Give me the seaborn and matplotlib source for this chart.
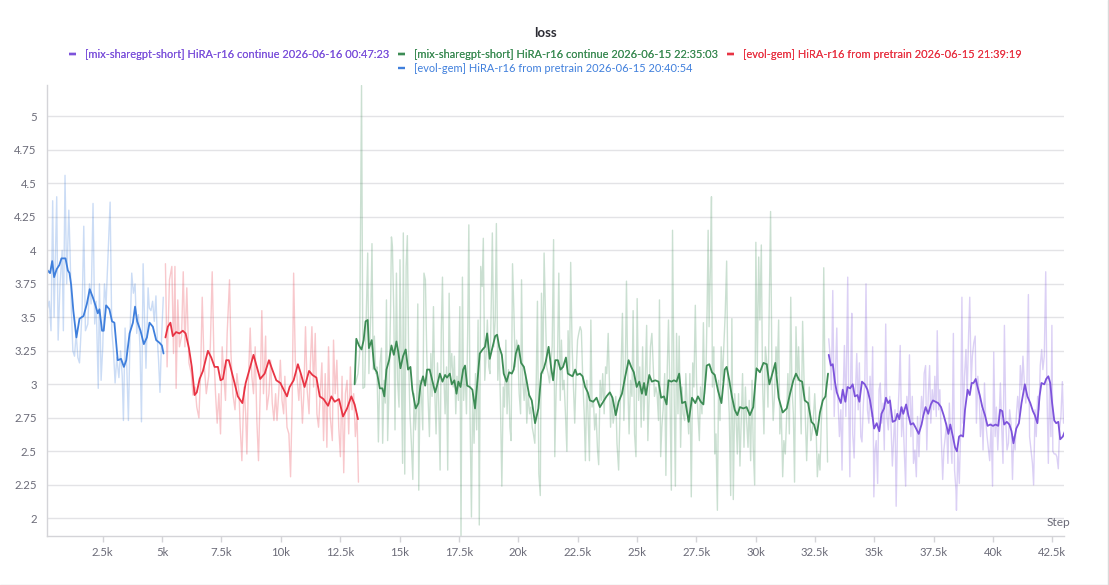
import matplotlib
matplotlib.use("Agg")
import matplotlib.pyplot as plt
from matplotlib.lines import Line2D
from matplotlib.ticker import FixedLocator, FuncFormatter
import seaborn as sns
import numpy as np
import pandas as pd

# run names as shown in the legend
run_purple = "[mix-sharegpt-short] HiRA-r16 continue 2026-06-16 00:47:23"
run_green = "[mix-sharegpt-short] HiRA-r16 continue 2026-06-15 22:35:03"
run_red = "[evol-gem] HiRA-r16 from pretrain 2026-06-15 21:39:19"
run_blue = "[evol-gem] HiRA-r16 from pretrain 2026-06-15 20:40:54"

colors = {
    run_purple: "#7d53db",
    run_green: "#3d8c55",
    run_red: "#e83444",
    run_blue: "#3f7fdc",
}

# steps are in thousands
blue_smooth_k = [0.08, 0.18, 0.28, 0.37, 0.45, 0.56, 0.67, 0.76, 0.93, 1.03,
                 1.10, 1.17, 1.26, 1.39, 1.52, 1.69, 1.83, 1.95, 2.08, 2.19,
                 2.29, 2.36, 2.47, 2.54, 2.64, 2.78, 2.89, 2.99, 3.13, 3.27,
                 3.39, 3.49, 3.63, 3.77, 3.86, 3.95, 4.09, 4.23, 4.36, 4.47,
                 4.61, 4.75, 4.89, 4.99, 5.06]
blue_smooth = [3.77, 3.85, 3.83, 3.92, 3.80, 3.86, 3.89, 3.94, 3.94, 3.85,
               3.83, 3.74, 3.55, 3.35, 3.49, 3.51, 3.60, 3.71, 3.65, 3.59,
               3.53, 3.56, 3.40, 3.40, 3.59, 3.56, 3.47, 3.46, 3.18, 3.19,
               3.13, 3.18, 3.38, 3.46, 3.58, 3.47, 3.40, 3.30, 3.35, 3.46,
               3.43, 3.33, 3.31, 3.29, 3.23]
blue_raw_k = [0.11, 0.18, 0.25, 0.32, 0.39, 0.45, 0.56, 0.62, 0.70, 0.79, 0.84,
              0.91, 0.98, 1.07, 1.12, 1.18, 1.24, 1.31, 1.38, 1.45, 1.52,
              1.63, 1.70, 1.77, 1.87, 1.94, 2.01, 2.09, 2.16, 2.22, 2.31,
              2.36, 2.43, 2.50, 2.57, 2.64, 2.73, 2.81, 2.88, 2.95, 3.02,
              3.09, 3.18, 3.25, 3.32, 3.37, 3.44, 3.51, 3.58, 3.65, 3.72,
              3.79, 3.86, 3.93, 4.00, 4.07, 4.13, 4.20, 4.27, 4.32, 4.41,
              4.46, 4.53, 4.60, 4.67, 4.74, 4.80, 4.85, 4.91, 4.98, 5.05]
blue_raw = [4.52, 3.57, 3.62, 3.40, 4.37, 3.50, 4.40, 3.33, 3.75, 4.00, 3.40,
            4.56, 3.75, 4.30, 4.00, 3.55, 3.25, 3.21, 3.38, 3.20, 3.16,
            3.55, 4.18, 3.40, 3.45, 3.75, 3.60, 4.35, 3.45, 3.62, 2.97,
            3.75, 3.03, 3.28, 3.75, 3.60, 4.00, 4.36, 3.40, 3.25, 3.01,
            3.20, 3.05, 3.25, 3.06, 2.73, 3.42, 3.14, 2.73, 3.38, 3.83,
            3.68, 3.75, 3.38, 3.52, 3.27, 2.72, 3.90, 3.42, 3.12, 3.72,
            3.57, 3.55, 3.62, 3.47, 3.66, 3.33, 3.18, 2.94, 3.36, 3.65]

red_smooth_k = [5.14, 5.24, 5.35, 5.45, 5.59, 5.73, 5.87, 5.99, 6.13, 6.25,
                6.37, 6.46, 6.58, 6.72, 6.83, 6.93, 7.07, 7.21, 7.35, 7.46,
                7.56, 7.70, 7.81, 7.95, 8.05, 8.19, 8.38, 8.52, 8.68, 8.85,
                8.99, 9.13, 9.32, 9.50, 9.64, 9.81, 9.98, 10.12, 10.26, 10.37,
                10.54, 10.72, 10.86, 11.00, 11.19, 11.33, 11.50, 11.64, 11.80, 11.99,
                12.13, 12.27, 12.45, 12.62, 12.79, 12.97, 13.11, 13.25]
red_smooth = [3.35, 3.43, 3.46, 3.36, 3.39, 3.38, 3.40, 3.38, 3.27, 3.13,
              2.92, 2.94, 3.04, 3.10, 3.18, 3.25, 3.20, 3.13, 3.13, 3.03,
              3.04, 3.18, 3.18, 3.08, 3.01, 2.91, 2.86, 3.01, 3.11, 3.22,
              3.13, 3.04, 3.08, 3.18, 3.11, 3.03, 3.01, 2.96, 2.91, 2.98,
              3.03, 3.15, 3.07, 2.98, 3.10, 3.07, 3.05, 2.91, 2.89, 2.84,
              2.91, 2.87, 2.89, 2.76, 2.82, 2.91, 2.85, 2.74]
red_raw_k = [5.14, 5.21, 5.31, 5.41, 5.48, 5.54, 5.59, 5.66, 5.73, 5.82,
             5.89, 5.96, 6.04, 6.13, 6.23, 6.30, 6.39, 6.46, 6.55, 6.62,
             6.69, 6.76, 6.86, 6.96, 7.03, 7.11, 7.18, 7.25, 7.32, 7.39,
             7.46, 7.53, 7.60, 7.67, 7.74, 7.84, 7.90, 7.98, 8.07, 8.15,
             8.24, 8.29, 8.36, 8.45, 8.52, 8.57, 8.64, 8.71, 8.78, 8.85,
             8.92, 8.99, 9.06, 9.13, 9.20, 9.27, 9.36, 9.41, 9.50, 9.57,
             9.64, 9.71, 9.78, 9.84, 9.92, 9.98, 10.05, 10.12, 10.17, 10.26,
             10.34, 10.41, 10.48, 10.54, 10.61, 10.68, 10.76, 10.82, 10.91, 10.97,
             11.04, 11.11, 11.19, 11.24, 11.31, 11.38, 11.45, 11.52, 11.59, 11.66,
             11.73, 11.80, 11.87, 11.94, 12.01, 12.08, 12.17, 12.22, 12.29, 12.36,
             12.44, 12.51, 12.58, 12.65, 12.72, 12.79, 12.86, 12.93, 13.00, 13.07,
             13.14, 13.21, 13.27]
red_raw = [3.90, 3.13, 3.78, 3.88, 3.23, 3.88, 2.97, 3.63, 3.28, 3.36,
           3.84, 3.28, 3.72, 3.16, 3.08, 2.92, 2.98, 2.83, 2.75, 3.08,
           3.65, 3.18, 2.93, 3.06, 3.28, 3.84, 3.23, 2.93, 2.71, 2.93,
           2.63, 3.28, 3.06, 2.88, 3.38, 3.78, 3.23, 2.93, 2.81, 3.08,
           2.93, 2.68, 2.43, 2.98, 2.78, 2.48, 3.06, 3.42, 3.06, 2.93,
           3.28, 2.73, 2.43, 2.93, 3.55, 2.93, 3.36, 2.81, 2.93, 3.18,
           2.86, 2.73, 2.93, 2.73, 2.96, 3.18, 2.88, 2.78, 3.06, 2.68,
           2.63, 2.31, 2.88, 3.83, 3.18, 3.06, 2.88, 3.08, 2.71, 2.93,
           3.43, 2.96, 2.78, 3.13, 3.43, 2.98, 3.38, 2.78, 2.68, 2.93,
           3.16, 2.58, 3.08, 2.53, 3.28, 2.76, 2.58, 3.33, 2.93, 3.18,
           2.68, 2.46, 3.06, 2.34, 2.93, 3.03, 2.63, 3.13, 2.81, 2.93,
           2.61, 2.78, 2.27]

green_smooth_k = [13.11, 13.18, 13.29, 13.40, 13.49, 13.57, 13.66, 13.71, 13.83, 13.94,
                  14.05, 14.17, 14.28, 14.36, 14.45, 14.56, 14.66, 14.76, 14.87, 14.95,
                  15.04, 15.15, 15.26, 15.36, 15.46, 15.54, 15.68, 15.80, 15.88, 15.99,
                  16.08, 16.16, 16.27, 16.39, 16.50, 16.58, 16.70, 16.81, 16.92, 17.00,
                  17.12, 17.20, 17.31, 17.40, 17.48, 17.57, 17.68, 17.76, 17.85, 17.96,
                  18.07, 18.18, 18.30, 18.38, 18.50, 18.60, 18.69, 18.80, 18.92, 19.03,
                  19.11, 19.20, 19.31, 19.39, 19.51, 19.62, 19.73, 19.81, 19.90, 20.01,
                  20.12, 20.24, 20.35, 20.46, 20.57, 20.71, 20.85, 20.97, 21.08, 21.16,
                  21.28, 21.39, 21.47, 21.56, 21.67, 21.78, 21.89, 22.01, 22.09, 22.18,
                  22.29, 22.40, 22.48, 22.60, 22.71, 22.82, 22.93, 23.02, 23.16, 23.30,
                  23.44, 23.58, 23.72, 23.86, 23.97, 24.11, 24.23, 24.37, 24.51, 24.65,
                  24.76, 24.87, 24.99, 25.10, 25.21, 25.30, 25.38, 25.52, 25.63, 25.77,
                  25.91, 26.02, 26.14, 26.25, 26.33, 26.45, 26.56, 26.67, 26.78, 26.90,
                  27.04, 27.18, 27.32, 27.46, 27.57, 27.69, 27.80, 27.94, 28.05, 28.16,
                  28.28, 28.42, 28.56, 28.70, 28.78, 28.89, 29.00, 29.12, 29.23, 29.34,
                  29.48, 29.62, 29.76, 29.90, 30.04, 30.18, 30.33, 30.47, 30.58, 30.69,
                  30.83, 30.97, 31.14, 31.31, 31.45, 31.59, 31.70, 31.84, 31.96, 32.07,
                  32.21, 32.35, 32.46, 32.58, 32.71, 32.83, 32.94, 33.05]
green_smooth = [3.00, 3.34, 3.29, 3.26, 3.33, 3.47, 3.48, 3.27, 3.33, 3.12,
                3.09, 2.97, 2.97, 2.91, 3.11, 3.18, 3.29, 3.22, 3.32, 3.24,
                3.12, 3.21, 3.26, 3.11, 3.13, 2.96, 2.82, 2.86, 2.99, 3.06,
                2.99, 3.11, 3.11, 3.02, 2.94, 2.99, 3.08, 3.02, 3.07, 3.05,
                3.08, 3.00, 3.03, 2.93, 3.02, 2.98, 3.11, 3.14, 2.99, 2.98,
                2.96, 2.82, 3.06, 3.23, 3.26, 3.28, 3.38, 3.19, 3.28, 3.36,
                3.37, 3.28, 3.22, 3.08, 3.02, 3.09, 3.08, 3.11, 3.23, 3.29,
                3.16, 3.13, 3.03, 2.92, 2.88, 2.71, 2.82, 3.08, 3.12, 3.17,
                3.28, 3.12, 3.03, 3.18, 3.18, 3.11, 3.13, 3.20, 3.08, 3.07,
                3.06, 3.11, 3.07, 3.08, 3.06, 2.98, 2.94, 2.88, 2.87, 2.90,
                2.83, 2.87, 2.91, 2.94, 2.90, 2.77, 2.87, 2.93, 3.06, 3.18,
                3.13, 3.09, 2.98, 3.02, 2.93, 3.01, 2.92, 3.07, 3.02, 3.03,
                3.02, 2.90, 2.91, 2.85, 3.03, 3.02, 3.03, 3.02, 3.08, 2.86,
                2.87, 2.72, 2.90, 2.86, 2.91, 2.87, 2.85, 3.14, 3.15, 3.09,
                3.07, 2.95, 2.86, 3.11, 3.13, 3.03, 2.91, 2.81, 2.77, 2.83,
                2.82, 2.83, 2.77, 2.83, 3.12, 3.09, 3.16, 3.15, 3.00, 3.07,
                3.16, 2.90, 2.79, 2.82, 2.93, 3.03, 3.08, 3.03, 3.02, 2.88,
                2.86, 2.72, 2.70, 2.62, 2.79, 2.88, 2.91, 3.08]
green_raw_k = [13.15, 13.25, 13.32, 13.40, 13.46, 13.53, 13.60, 13.66, 13.71, 13.79,
               13.84, 13.89, 13.94, 14.00, 14.05, 14.11, 14.18, 14.24, 14.29, 14.35,
               14.40, 14.45, 14.50, 14.56, 14.62, 14.66, 14.70, 14.76, 14.81, 14.87,
               14.92, 14.98, 15.02, 15.08, 15.13, 15.16, 15.22, 15.28, 15.33, 15.39,
               15.44, 15.50, 15.56, 15.61, 15.67, 15.72, 15.77, 15.81, 15.87, 15.92,
               15.98, 16.03, 16.09, 16.15, 16.20, 16.26, 16.32, 16.37, 16.43, 16.48,
               16.54, 16.60, 16.65, 16.71, 16.76, 16.81, 16.86, 16.92, 16.98, 17.03,
               17.09, 17.14, 17.20, 17.26, 17.31, 17.37, 17.42, 17.48, 17.54, 17.59,
               17.65, 17.70, 17.76, 17.82, 17.87, 17.92, 17.97, 18.03, 18.08, 18.14,
               18.20, 18.25, 18.31, 18.36, 18.42, 18.48, 18.53, 18.59, 18.65, 18.70,
               18.76, 18.81, 18.87, 18.91, 18.97, 19.03, 19.08, 19.14, 19.20, 19.25,
               19.31, 19.37, 19.42, 19.48, 19.53, 19.59, 19.65, 19.70, 19.76, 19.82,
               19.87, 19.93, 19.98, 20.04, 20.10, 20.14, 20.19, 20.25, 20.31, 20.36,
               20.42, 20.48, 20.53, 20.59, 20.64, 20.70, 20.76, 20.81, 20.87, 20.93,
               20.98, 21.04, 21.09, 21.15, 21.20, 21.26, 21.32, 21.37, 21.43, 21.49,
               21.54, 21.60, 21.65, 21.71, 21.77, 21.82, 21.88, 21.93, 21.99, 22.05,
               22.10, 22.16, 22.21, 22.27, 22.33, 22.38, 22.44, 22.50, 22.55, 22.61,
               22.66, 22.72, 22.78, 22.83, 22.89, 22.94, 23.00, 23.06, 23.11, 23.17,
               23.22, 23.28, 23.34, 23.39, 23.45, 23.51, 23.56, 23.62, 23.68, 23.73,
               23.79, 23.89, 23.94, 24.00, 24.05, 24.11, 24.16, 24.23, 24.28, 24.33,
               24.39, 24.45, 24.51, 24.56, 24.62, 24.67, 24.73, 24.79, 24.84, 24.90,
               24.96, 25.01, 25.07, 25.12, 25.18, 25.24, 25.29, 25.35, 25.41, 25.46,
               25.52, 25.57, 25.63, 25.69, 25.74, 25.80, 25.85, 25.91, 25.95, 26.00,
               26.05, 26.11, 26.17, 26.22, 26.28, 26.33, 26.39, 26.45, 26.50, 26.56,
               26.62, 26.67, 26.73, 26.78, 26.84, 26.90, 26.95, 27.01, 27.06, 27.12,
               27.18, 27.23, 27.29, 27.35, 27.40, 27.46, 27.51, 27.57, 27.63, 27.68,
               27.74, 27.80, 27.85, 27.91, 27.96, 28.00, 28.04, 28.10, 28.14, 28.18,
               28.24, 28.28, 28.33, 28.39, 28.44, 28.50, 28.55, 28.61, 28.66, 28.72,
               28.78, 28.83, 28.89, 28.95, 29.00, 29.06, 29.12, 29.17, 29.23, 29.28,
               29.34, 29.40, 29.45, 29.51, 29.57, 29.62, 29.68, 29.73, 29.79, 29.85,
               29.90, 29.96, 30.01, 30.07, 30.13, 30.18, 30.24, 30.29, 30.35, 30.41,
               30.46, 30.52, 30.57, 30.63, 30.69, 30.74, 30.80, 30.86, 30.91, 30.97,
               31.02, 31.08, 31.14, 31.19, 31.25, 31.31, 31.36, 31.42, 31.48, 31.53,
               31.59, 31.64, 31.70, 31.76, 31.81, 31.87, 31.92, 31.98, 32.04, 32.09,
               32.15, 32.21, 32.26, 32.32, 32.37, 32.43, 32.49, 32.54, 32.60, 32.66,
               32.71, 32.77, 32.82, 32.87, 32.92, 32.98, 33.03]
green_raw = [3.01, 3.08, 3.23, 5.23, 2.97, 2.98, 3.53, 3.98, 3.08, 3.53,
             4.05, 3.11, 3.36, 3.08, 3.13, 2.57, 3.16, 3.27, 2.56, 3.03,
             2.86, 3.63, 2.58, 2.98, 3.53, 4.10, 4.03, 3.53, 2.66, 3.83,
             3.03, 2.83, 3.93, 3.03, 2.41, 4.13, 2.33, 3.88, 4.11, 3.13,
             2.78, 2.56, 2.29, 2.93, 2.66, 2.83, 3.60, 2.21, 3.03, 2.93,
             2.66, 3.83, 3.78, 3.21, 2.91, 2.61, 3.23, 2.91, 3.58, 2.98,
             2.63, 3.16, 2.86, 2.36, 3.40, 3.80, 3.11, 2.78, 3.13, 2.36,
             3.68, 3.08, 3.23, 2.98, 3.21, 2.78, 3.06, 2.88, 3.58, 1.87,
             3.80, 2.88, 3.13, 2.78, 3.38, 4.19, 2.78, 2.01, 2.93, 2.56,
             3.08, 2.66, 3.48, 1.95, 3.88, 3.73, 4.09, 3.03, 3.23, 3.48,
             3.13, 3.08, 3.65, 4.13, 3.28, 3.48, 4.20, 3.03, 3.28, 2.88,
             2.24, 2.98, 2.83, 3.33, 2.78, 3.11, 2.68, 2.58, 3.90, 3.53,
             3.13, 3.33, 3.28, 2.93, 2.78, 3.78, 3.03, 2.88, 3.08, 2.71,
             2.93, 2.78, 2.83, 2.68, 2.63, 2.56, 3.03, 3.62, 2.33, 2.17,
             3.68, 3.08, 3.98, 3.53, 3.13, 3.08, 3.01, 3.13, 3.28, 4.08,
             2.46, 2.98, 3.13, 3.83, 2.88, 3.33, 2.96, 3.03, 2.78, 2.50,
             3.40, 3.08, 3.91, 3.28, 2.98, 2.71, 3.08, 3.33, 3.38, 3.43,
             3.40, 3.03, 2.78, 2.43, 3.03, 2.78, 2.43, 3.48, 2.83, 2.88,
             2.66, 2.78, 2.51, 2.40, 3.03, 2.88, 3.08, 2.78, 3.13, 3.08,
             3.38, 2.68, 2.91, 2.71, 2.78, 2.91, 2.56, 2.36, 2.73, 3.13,
             3.53, 2.73, 3.08, 3.77, 2.98, 2.63, 3.03, 2.91, 3.55, 2.63,
             2.46, 3.64, 2.88, 3.13, 2.68, 3.28, 2.73, 3.03, 3.44, 2.58,
             2.93, 3.28, 3.38, 3.13, 2.91, 2.98, 2.93, 2.73, 3.63, 2.46,
             2.68, 2.83, 3.08, 2.32, 3.13, 3.48, 2.93, 2.21, 4.15, 3.03,
             2.24, 3.38, 2.78, 3.36, 2.53, 2.98, 2.78, 2.73, 3.08, 2.83,
             2.63, 3.08, 2.16, 3.16, 2.98, 3.59, 3.03, 2.78, 2.58, 2.98,
             2.78, 3.46, 2.93, 3.08, 3.60, 4.15, 3.43, 3.90, 4.40, 2.98,
             3.28, 2.48, 2.63, 2.06, 3.03, 2.73, 3.28, 3.03, 3.28, 3.53,
             3.92, 3.03, 2.78, 2.17, 3.49, 2.14, 2.93, 2.78, 2.48, 2.93,
             2.39, 2.78, 3.08, 2.53, 2.98, 2.73, 2.53, 2.88, 2.43, 3.03,
             2.53, 2.25, 4.06, 3.13, 3.95, 3.48, 4.04, 3.03, 2.63, 3.28,
             3.18, 2.83, 3.53, 4.29, 3.03, 2.73, 2.93, 3.28, 3.08, 3.48,
             2.63, 2.81, 2.31, 2.58, 2.48, 2.78, 3.08, 2.63, 3.65, 2.98,
             2.78, 2.27, 3.43, 3.03, 3.28, 2.93, 2.63, 3.47, 3.03, 2.78,
             2.43, 2.78, 2.98, 2.58, 2.63, 2.73, 2.93, 2.73, 2.31, 2.48,
             2.36, 2.73, 2.93, 3.87, 3.03, 2.93, 2.42]

purple_smooth_k = [33.08, 33.17, 33.25, 33.34, 33.42, 33.50, 33.59, 33.67, 33.78, 33.87,
                   33.98, 34.09, 34.18, 34.29, 34.37, 34.48, 34.60, 34.71, 34.82, 34.91,
                   34.99, 35.10, 35.21, 35.30, 35.41, 35.49, 35.58, 35.66, 35.77, 35.89,
                   35.97, 36.05, 36.14, 36.22, 36.34, 36.42, 36.53, 36.64, 36.76, 36.87,
                   36.99, 37.07, 37.16, 37.27, 37.38, 37.47, 37.58, 37.69, 37.81, 37.92,
                   38.03, 38.12, 38.20, 38.31, 38.40, 38.48, 38.57, 38.65, 38.74, 38.82,
                   38.93, 39.02, 39.10, 39.18, 39.27, 39.35, 39.44, 39.55, 39.66, 39.77,
                   39.88, 40.00, 40.11, 40.22, 40.30, 40.39, 40.47, 40.58, 40.69, 40.78,
                   40.86, 40.98, 41.09, 41.20, 41.34, 41.45, 41.57, 41.68, 41.76, 41.87,
                   41.96, 42.04, 42.16, 42.24, 42.33, 42.41, 42.49, 42.58, 42.66, 42.75,
                   42.83, 42.94, 43.03]
purple_smooth = [3.22, 3.14, 3.15, 3.02, 2.94, 2.90, 2.86, 2.96, 2.87, 2.98,
                 2.97, 3.00, 2.91, 2.92, 2.87, 3.02, 3.00, 2.96, 2.88, 2.78,
                 2.67, 2.71, 2.65, 2.78, 2.82, 2.90, 2.86, 2.88, 2.72, 2.73,
                 2.78, 2.74, 2.83, 2.78, 2.85, 2.78, 2.70, 2.71, 2.67, 2.63,
                 2.70, 2.77, 2.83, 2.78, 2.85, 2.88, 2.87, 2.86, 2.83, 2.77,
                 2.70, 2.63, 2.70, 2.61, 2.53, 2.50, 2.61, 2.62, 2.61, 2.81,
                 2.96, 2.92, 3.01, 3.01, 3.04, 2.98, 2.92, 2.83, 2.77, 2.69,
                 2.70, 2.69, 2.70, 2.69, 2.81, 2.80, 2.70, 2.72, 2.70, 2.65,
                 2.56, 2.67, 2.71, 2.86, 3.00, 2.91, 2.86, 2.80, 2.77, 2.71,
                 2.91, 3.01, 3.00, 3.04, 3.06, 3.01, 2.86, 2.73, 2.71, 2.72,
                 2.59, 2.61, 2.65]
purple_raw_k = [33.08, 33.14, 33.19, 33.25, 33.31, 33.36, 33.42, 33.47, 33.53, 33.59,
                33.64, 33.70, 33.74, 33.80, 33.84, 33.88, 33.92, 33.97, 34.01, 34.05,
                34.09, 34.15, 34.21, 34.26, 34.32, 34.37, 34.43, 34.48, 34.54, 34.60,
                34.65, 34.71, 34.77, 34.82, 34.88, 34.93, 34.98, 35.03, 35.08, 35.14,
                35.20, 35.25, 35.31, 35.37, 35.42, 35.48, 35.53, 35.59, 35.65, 35.70,
                35.76, 35.82, 35.87, 35.92, 35.98, 36.04, 36.09, 36.15, 36.20, 36.26,
                36.32, 36.37, 36.43, 36.48, 36.54, 36.60, 36.65, 36.71, 36.77, 36.82,
                36.88, 36.93, 36.99, 37.05, 37.10, 37.16, 37.21, 37.27, 37.33, 37.38,
                37.44, 37.50, 37.55, 37.61, 37.65, 37.71, 37.76, 37.82, 37.88, 37.93,
                37.99, 38.04, 38.10, 38.16, 38.21, 38.27, 38.33, 38.38, 38.44, 38.46,
                38.52, 38.58, 38.63, 38.69, 38.74, 38.80, 38.86, 38.91, 38.97, 39.02,
                39.08, 39.13, 39.19, 39.25, 39.30, 39.36, 39.42, 39.47, 39.53, 39.58,
                39.64, 39.70, 39.75, 39.81, 39.86, 39.92, 39.98, 40.03, 40.09, 40.14,
                40.20, 40.26, 40.31, 40.37, 40.42, 40.48, 40.54, 40.59, 40.65, 40.70,
                40.76, 40.82, 40.87, 40.93, 40.98, 41.04, 41.10, 41.15, 41.21, 41.26,
                41.32, 41.38, 41.43, 41.49, 41.54, 41.60, 41.66, 41.71, 41.77, 41.82,
                41.88, 41.94, 41.99, 42.05, 42.10, 42.16, 42.22, 42.27, 42.33, 42.38,
                42.44, 42.48, 42.52, 42.58, 42.64, 42.69, 42.75, 42.80, 42.86, 42.92,
                42.97]
purple_raw = [3.34, 3.21, 2.96, 3.70, 2.76, 3.06, 3.42, 2.88, 2.61, 2.81,
              2.36, 3.01, 3.29, 2.76, 3.26, 3.80, 2.88, 2.31, 3.13, 3.53,
              2.63, 2.45, 2.96, 3.23, 2.81, 3.16, 2.61, 2.57, 2.86, 3.01,
              3.75, 2.81, 2.71, 3.06, 2.76, 3.28, 2.16, 2.51, 2.58, 2.26,
              2.96, 3.01, 2.71, 2.86, 2.51, 3.45, 2.76, 2.66, 2.91, 2.71,
              2.39, 2.61, 2.81, 2.09, 2.71, 2.96, 3.29, 2.61, 2.83, 2.51,
              2.24, 2.91, 2.76, 3.22, 2.61, 2.91, 2.41, 2.51, 2.31, 2.76,
              2.46, 2.71, 2.91, 2.76, 3.08, 3.14, 2.51, 2.91, 3.14, 2.71,
              2.96, 2.81, 3.06, 2.76, 3.40, 2.81, 2.96, 2.61, 2.29, 2.51,
              2.61, 2.71, 2.41, 2.86, 2.61, 2.41, 3.38, 2.36, 2.21, 2.06,
              2.51, 2.26, 2.61, 3.65, 2.71, 3.06, 3.26, 2.91, 3.36, 3.65,
              3.01, 3.21, 3.31, 3.36, 2.71, 3.06, 2.91, 2.61, 2.81, 2.51,
              3.01, 2.71, 2.61, 2.51, 2.43, 2.71, 2.24, 3.24, 2.61, 2.83,
              2.51, 2.76, 3.01, 2.66, 2.41, 3.44, 2.71, 2.51, 2.56, 2.81,
              2.71, 2.29, 2.61, 2.51, 2.76, 2.91, 2.76, 3.14, 2.96, 3.21,
              3.01, 2.86, 3.01, 3.67, 2.61, 2.51, 2.41, 2.25, 2.81, 2.61,
              2.91, 2.81, 3.14, 3.26, 3.11, 3.21, 3.84, 2.96, 2.41, 3.01,
              2.61, 3.44, 2.50, 2.48, 2.48, 2.46, 2.37, 2.66, 2.76, 3.02,
              2.71]

y_ticks = [2, 2.25, 2.5, 2.75, 3, 3.25, 3.5, 3.75, 4, 4.25, 4.5, 4.75, 5]
x_ticks = [2500, 5000, 7500, 10000, 12500, 15000, 17500, 20000, 22500,
           25000, 27500, 30000, 32500, 35000, 37500, 40000, 42500]


def frame(run, steps_k, values):
    return pd.DataFrame({"run": run, "step": np.asarray(steps_k) * 1000.0, "loss": values})


raw_df = pd.concat([
    frame(run_blue, blue_raw_k, blue_raw),
    frame(run_red, red_raw_k, red_raw),
    frame(run_green, green_raw_k, green_raw),
    frame(run_purple, purple_raw_k, purple_raw),
], ignore_index=True)
smooth_df = pd.concat([
    frame(run_blue, blue_smooth_k, blue_smooth),
    frame(run_red, red_smooth_k, red_smooth),
    frame(run_green, green_smooth_k, green_smooth),
    frame(run_purple, purple_smooth_k, purple_smooth),
], ignore_index=True)

sns.set_theme(style="white")
plt.rcParams["font.family"] = ["Lato", "DejaVu Sans"]

grey_text = "#6b6b78"
axis_grey = "#d4d4d8"

fig = plt.figure(figsize=(11.09, 5.85), dpi=100)
ax = fig.add_axes([46.5 / 1109, 1 - 536 / 585, (1064 - 46.5) / 1109, (536 - 85) / 585])

hue_order = [run_blue, run_red, run_green, run_purple]
sns.lineplot(data=raw_df, x="step", y="loss", hue="run", hue_order=hue_order,
             palette=colors, estimator=None, sort=False, alpha=0.27,
             linewidth=1.0, legend=False, ax=ax)
sns.lineplot(data=smooth_df, x="step", y="loss", hue="run", hue_order=hue_order,
             palette=colors, estimator=None, sort=False,
             linewidth=1.3, legend=False, ax=ax)

ax.set_xlim(130, 42990)
ax.set_ylim(1.868, 5.234)
ax.yaxis.set_major_locator(FixedLocator(y_ticks))
ax.xaxis.set_major_locator(FixedLocator(x_ticks))
ax.yaxis.set_major_formatter(FuncFormatter(lambda v, p: f"{v:g}"))
ax.xaxis.set_major_formatter(FuncFormatter(lambda v, p: f"{v / 1000:g}k"))
ax.set_xlabel("")
ax.set_ylabel("")
ax.grid(axis="y", color="#e3e3e6", linewidth=1)
ax.set_axisbelow(True)

for side in ["top", "right"]:
    ax.spines[side].set_visible(False)
for side in ["left", "bottom"]:
    ax.spines[side].set_color(axis_grey)
    ax.spines[side].set_linewidth(1)

ax.tick_params(axis="x", which="major", bottom=True, length=4, width=1,
               color=axis_grey, labelsize=8.2, labelcolor=grey_text, pad=4)
ax.tick_params(axis="y", which="major", left=False, length=0,
               labelsize=8.2, labelcolor=grey_text, pad=7)

fig.text(0.954, 1 - 522.7 / 585, "Step", ha="center", va="center",
         fontsize=8.6, color=grey_text)
fig.text(0.4915, 1 - 33 / 585, "loss", ha="center", va="center",
         fontsize=9.5, fontweight="bold", color="#2b2b33")

# legend: two rows like the original header
def handle(run):
    return Line2D([0], [0], color=colors[run], linewidth=1.7, solid_capstyle="butt")


legend_kw = dict(loc="center", frameon=False, fontsize=7.95, handlelength=0.68,
                 handletextpad=0.77, columnspacing=0.82, labelcolor="linecolor",
                 borderpad=0)
row1 = [run_purple, run_green, run_red]
row2 = [run_blue]
leg1 = fig.legend([handle(r) for r in row1], row1, ncol=3,
                  bbox_to_anchor=(0.4915, 1 - 54 / 585), **legend_kw)
fig.add_artist(leg1)
fig.legend([handle(r) for r in row2], row2, ncol=1,
           bbox_to_anchor=(0.4915, 1 - 68 / 585), **legend_kw)

# thin frame at the right and bottom edge of the panel
fig.add_artist(Line2D([1107.5 / 1109, 1107.5 / 1109], [0, 1], color="#dadada", linewidth=1))
fig.add_artist(Line2D([0, 1], [0.5 / 585, 0.5 / 585], color="#dadada", linewidth=1))

fig.savefig("out.png", dpi=100)
